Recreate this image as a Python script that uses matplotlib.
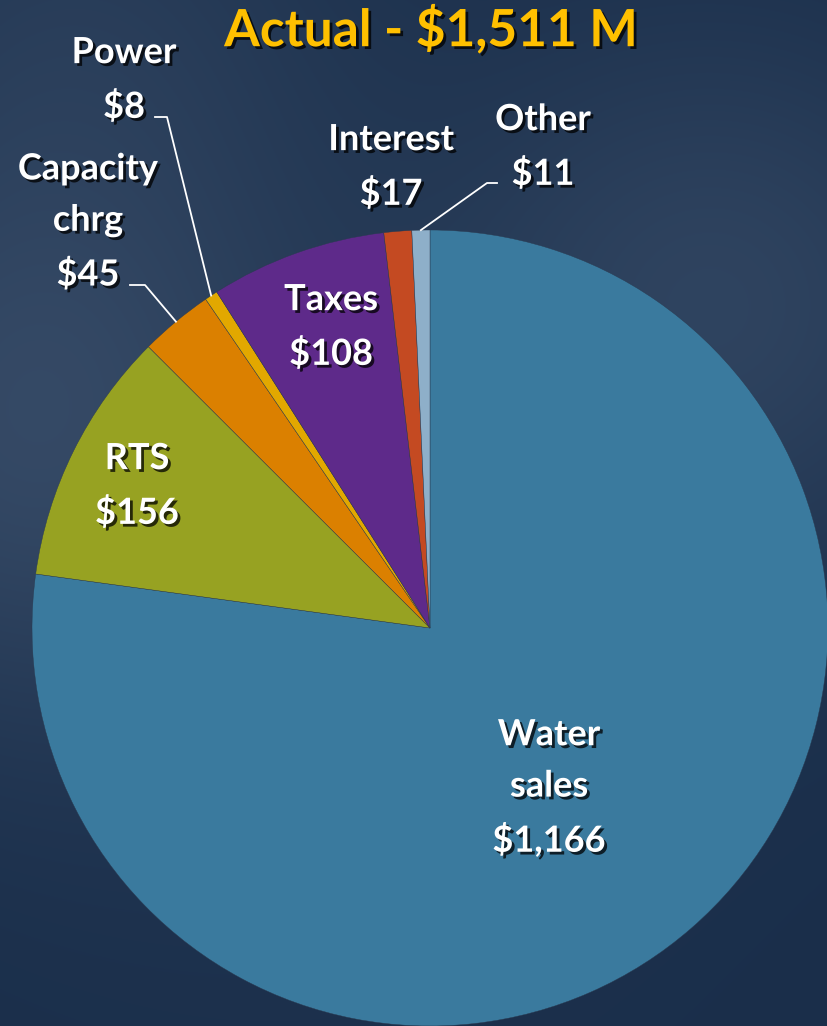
import numpy as np
import matplotlib.pyplot as plt
import matplotlib.patheffects as pe

categories = ['Water\nsales', 'RTS', 'Capacity\nchrg', 'Power', 'Taxes', 'Interest', 'Other']
values = [1166, 156, 45, 8, 108, 17, 11]
value_labels = ['$1,166', '$156', '$45', '$8', '$108', '$17', '$11']
colors = ['#3A7A9E', '#97A222', '#DB8000', '#E2A800', '#5E2A8A', '#C44A22', '#8EAFC9']
title = 'Actual - $1,511 M'

W, H = 827, 1026
cx, cy, R = 430, H - 628, 398

plt.rcParams['font.family'] = ['Lato', 'DejaVu Sans']

fig = plt.figure(figsize=(W / 100, H / 100), dpi=100)
ax = fig.add_axes([0, 0, 1, 1])

# background
yy, xx = np.mgrid[0:H, 0:W]
base = np.array([0.10, 0.18, 0.29])
img = np.ones((H, W, 3)) * base
blobs = [(20, 430, 200, 0.09), (720, 300, 200, 0.08), (80, 30, 200, 0.05), (300, 650, 300, 0.02)]
for bx, by, s, a in blobs:
    g = np.exp(-((xx - bx) ** 2 + (yy - by) ** 2) / (2 * s ** 2))
    img += a * g[..., None]
img = np.clip(img, 0, 1)
ax.imshow(img, extent=[0, W, 0, H], origin='upper', zorder=0, aspect='auto')

wedges, _ = ax.pie(values, colors=colors, startangle=90, counterclock=False,
                   center=(cx, cy), radius=R, frame=True,
                   wedgeprops=dict(edgecolor='#2a3a50', linewidth=0.3))
ax.set_xlim(0, W)
ax.set_ylim(0, H)
ax.axis('off')

shadow = [pe.SimplePatchShadow(offset=(2, -2), shadow_rgbFace='black', alpha=0.75), pe.Normal()]

ax.text(431, H - 30, title, ha='center', va='center', fontsize=37, fontweight='bold',
        color='#FFC000', path_effects=shadow)

# label centres (pixels from top) for each slice
label_pos = [(549, 788), (137, 486), (88, 222), (124, 80), (331, 327), (391, 167), (543, 147)]
for i, (name, val) in enumerate(zip(categories, value_labels)):
    px, py = label_pos[i]
    ax.text(px, H - py, name + '\n' + val, ha='center', va='center', fontsize=26,
            fontweight='bold', color='white', linespacing=1.68, path_effects=shadow)

# leader lines for small outside labels
leaders = {3: (155, 117, 167), 2: (130, 285, 145), 6: (497, 183, 487)}
for i, (x0, y0, x1) in leaders.items():
    w = wedges[i]
    ang = np.deg2rad((w.theta1 + w.theta2) / 2)
    ex, ey = cx + R * np.cos(ang), cy + R * np.sin(ang)
    ax.plot([x0, x1, ex], [H - y0, H - y0, ey], color='white', lw=1.3, zorder=5)

fig.savefig('out.png', dpi=100)
